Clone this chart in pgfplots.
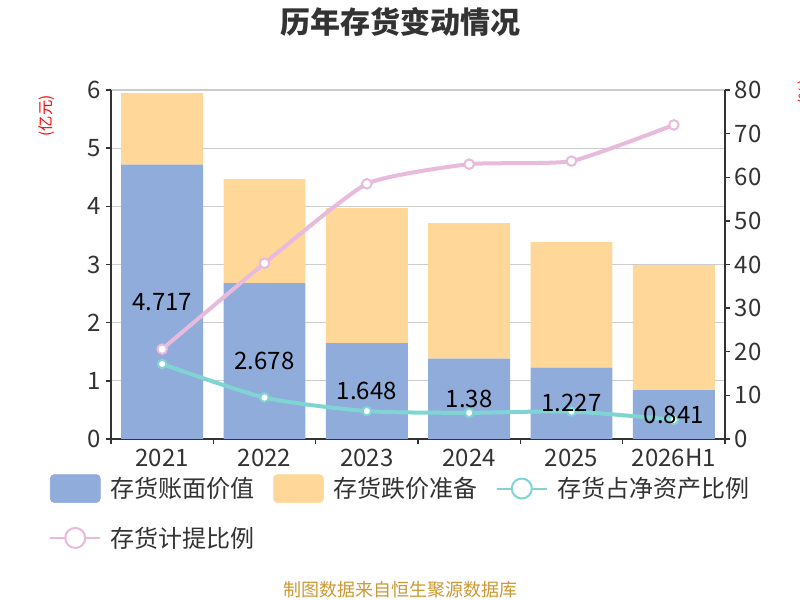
\documentclass[border=0pt]{standalone}
\usepackage{fontspec}
\setmainfont{Noto Sans CJK SC}
\usepackage{pgfplots}
\pgfplotsset{compat=1.18}
\definecolor{cblue}{HTML}{8FACDA}
\definecolor{corange}{HTML}{FFD899}
\definecolor{cteal}{HTML}{80D4D4}
\definecolor{cpink}{HTML}{E8BADB}
\definecolor{cgrid}{HTML}{CCCCCC}
\definecolor{caxis}{HTML}{333333}
\definecolor{cfoot}{HTML}{CC9933}
\pgfplotsset{
  barleg/.style={legend image code/.code={\fill[#1, rounded corners=3pt] (0pt,-10.5pt) rectangle (37.5pt,10.5pt);}},
  lineleg/.style={legend image code/.code={\draw[line width=1.5pt, #1] (0pt,0pt) -- (37.5pt,0pt); \draw[line width=1.5pt, #1, fill=white] (18.75pt,0pt) circle (7.5pt);}},
  common/.style={at={(83.25pt,120.75pt)}, anchor=south west, scale only axis, width=460.5pt, height=261.75pt,
    xmin=-0.5, xmax=5.5, tick align=outside, major tick length=3.75pt, minor tick length=3.75pt,
    axis line style={caxis, line width=1.1pt, -}, tick style={caxis, line width=1.1pt},
    ticklabel style={font=\fontsize{18pt}{20pt}\selectfont, text=caxis},
    /pgf/number format/assume math mode=true},
}
\begin{document}
\begin{tikzpicture}
\path[use as bounding box, fill=white] (0,0) rectangle (600pt,450pt);
\node[font=\bfseries\fontsize{22.5pt}{26pt}\selectfont, text=caxis] at (300pt,433.5pt) {历年存货变动情况};
\node[font=\fontsize{13.5pt}{15pt}\selectfont, text=cfoot] at (300pt,7.5pt) {制图数据来自恒生聚源数据库};
\node[rotate=90, text=red, font=\fontsize{11.5pt}{13pt}\selectfont] at (35.25pt,363pt) {(亿元)};
\node[rotate=90, text=red, font=\fontsize{11.5pt}{13pt}\selectfont] at (604.5pt,381pt) {(\%)};

\begin{axis}[common,
  ybar stacked, bar width=0.8,
  ymin=0, ymax=6, ytick={0,1,2,3,4,5,6},
  xtick={0,1,2,3,4,5}, xticklabels={2021,2022,2023,2024,2025,2026H1},
  major x tick style={draw=none},
  minor xtick={-0.5,0.5,1.5,2.5,3.5,4.5,5.5},
  axis x line*=bottom, axis y line*=left,
  ymajorgrids, grid style={cgrid, line width=0.9pt},
  ]
\addplot[fill=cblue, draw=none] coordinates {(0,4.717) (1,2.678) (2,1.648) (3,1.38) (4,1.227) (5,0.841)};
\addplot[fill=corange, draw=none] coordinates {(0,1.23) (1,1.79) (2,2.32) (3,2.33) (4,2.16) (5,2.15)};
\end{axis}

\begin{axis}[common,
  ymin=0, ymax=80, ytick={0,10,...,80},
  axis y line*=right, axis x line=none,
  legend columns=3,
  legend cell align=left,
  legend style={at={(-0.101,-0.1003)}, anchor=north west, draw=none, fill=none, inner sep=0pt,
    font=\fontsize{18pt}{20pt}\selectfont, text=caxis,
    /tikz/every odd column/.append style={column sep=5pt},
    /tikz/every even column/.append style={column sep=12pt}, row sep=16pt},
  ]
\addlegendimage{barleg=cblue}
\addlegendentry{存货账面价值}
\addlegendimage{barleg=corange}
\addlegendentry{存货跌价准备}
\addplot[cteal, line width=3pt, smooth, tension=0.4, mark=*, mark size=3.2pt, mark options={fill=white, draw=cteal, line width=1.5pt}, lineleg=cteal]
  coordinates {(0,17.2) (1,9.5) (2,6.4) (3,6.0) (4,6.3) (5,4.4)};
\addlegendentry{存货占净资产比例}
\addplot[cpink, line width=3pt, smooth, tension=0.3, mark=*, mark size=3.6pt, mark options={fill=white, draw=cpink, line width=1.5pt}, lineleg=cpink]
  coordinates {(0,20.6) (1,40.3) (2,58.5) (3,63.0) (4,63.7) (5,72.0)};
\addlegendentry{存货计提比例}
\end{axis}

\begin{axis}[common, hide axis, ymin=0, ymax=6]
\addplot[draw=none, mark=none, nodes near coords, point meta=explicit symbolic,
  every node near coord/.append style={anchor=center, font=\fontsize{18pt}{20pt}\selectfont, text=black}]
  coordinates {(0,2.3585)[4.717] (1,1.339)[2.678] (2,0.824)[1.648] (3,0.69)[1.38] (4,0.6135)[1.227] (5,0.4205)[0.841]};
\end{axis}
\end{tikzpicture}
\end{document}
